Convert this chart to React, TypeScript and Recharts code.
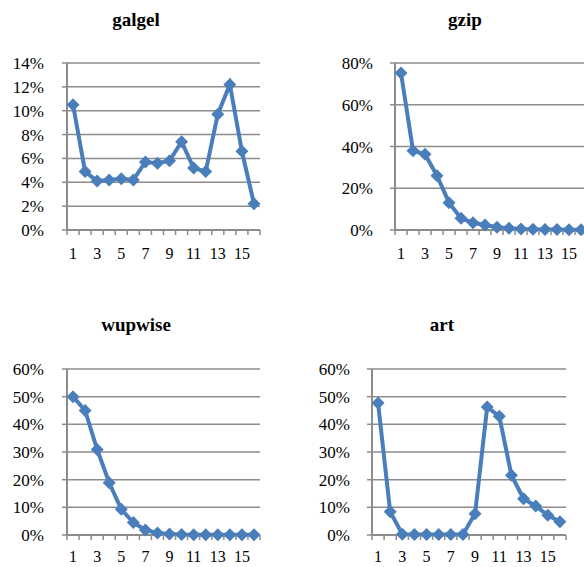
import { LineChart, Line, XAxis, YAxis, CartesianGrid } from "recharts";

// benchmark run phases 1..16, share of time per phase (%)
const categories = [1, 2, 3, 4, 5, 6, 7, 8, 9, 10, 11, 12, 13, 14, 15, 16];
const labelTicks = [1, 3, 5, 7, 9, 11, 13, 15];

const galgelValues = [10.5, 4.9, 4.1, 4.2, 4.3, 4.2, 5.7, 5.6, 5.8, 7.4, 5.2, 4.9, 9.7, 12.2, 6.6, 2.2];
const gzipValues = [75.2, 38, 36.3, 26, 13.1, 5.6, 3.5, 2.4, 1.3, 0.8, 0.5, 0.3, 0.2, 0.2, 0.1, 0.1];
const wupwiseValues = [50, 45, 30.9, 18.9, 9.3, 4.5, 1.8, 0.7, 0.4, 0.2, 0.1, 0.1, 0.1, 0.1, 0.1, 0.1];
const artValues = [47.7, 8.4, 0.3, 0.2, 0.2, 0.2, 0.2, 0.2, 7.7, 46.3, 42.9, 21.6, 13.1, 10.5, 7.1, 4.8];

const galgelTicks = [0, 2, 4, 6, 8, 10, 12, 14];
const gzipTicks = [0, 20, 40, 60, 80];
const sixtyTicks = [0, 10, 20, 30, 40, 50, 60];

const FONT = '"Liberation Serif", "DejaVu Serif", Tinos, "Times New Roman", serif';
const GRID = "#8c8c8c";
const BLUE = "#4a7ebb";

// tick marks sit between categories, like the Excel original
const boundaryTicks = [...categories.map((c) => c - 0.5), categories[categories.length - 1] + 0.5];

function Diamond(props: any) {
  const { cx, cy } = props;
  if (cx == null || cy == null) return null;
  const r = 6.5;
  return (
    <polygon
      key={`d-${cx}`}
      points={`${cx},${cy - r} ${cx + r},${cy} ${cx},${cy + r} ${cx - r},${cy}`}
      fill={BLUE}
    />
  );
}

interface PanelProps {
  title: string;
  values: number[];
  yTicks: number[];
  left: number;
  top: number;
  width: number;
  height: number;
  plotLeft: number;
  plotRight: number;
  plotTop: number;
  plotBottom: number;
  titleX: number;
  titleTop: number;
  labelGap: number;
  xLabelMargin: number;
}

const MARKS_H = 5;
const LABELS_H = 25;

function Panel(p: PanelProps) {
  const data = categories.map((c, i) => ({ x: c, v: p.values[i] }));
  const yMax = p.yTicks[p.yTicks.length - 1];
  const yTickStyle = { fill: "#000", fontSize: 17, fontFamily: FONT };
  const xTickStyle = { fill: "#000", fontSize: 16, fontFamily: FONT };

  return (
    <>
      <div
        style={{
          position: "absolute",
          left: p.titleX - 100,
          top: p.titleTop,
          width: 200,
          textAlign: "center",
          fontFamily: FONT,
          fontWeight: "bold",
          fontSize: 19,
          lineHeight: "20px",
        }}
      >
        {p.title}
      </div>
      <div style={{ position: "absolute", left: p.left, top: p.top }}>
        <LineChart
          width={p.width}
          height={p.height}
          data={data}
          margin={{
            top: p.plotTop - p.top,
            right: p.left + p.width - p.plotRight,
            bottom: p.top + p.height - p.plotBottom - MARKS_H - LABELS_H,
            left: 0,
          }}
        >
          <CartesianGrid vertical={false} stroke={GRID} strokeWidth={1.5} xAxisId="b" />
          {/* "a": tick marks between categories, "b": category labels */}
          <XAxis
            xAxisId="a"
            dataKey="x"
            type="number"
            domain={[0.5, 16.5]}
            ticks={boundaryTicks}
            interval={0}
            height={MARKS_H}
            tickFormatter={() => ""}
            tickSize={5}
            tickLine={{ stroke: GRID, strokeWidth: 1.5 }}
            axisLine={{ stroke: GRID, strokeWidth: 2 }}
          />
          <XAxis
            xAxisId="b"
            dataKey="x"
            type="number"
            domain={[0.5, 16.5]}
            ticks={labelTicks}
            interval={0}
            height={LABELS_H}
            tickSize={0}
            tickMargin={p.xLabelMargin}
            tickLine={false}
            axisLine={false}
            tick={xTickStyle}
          />
          <YAxis
            width={p.plotLeft - p.left}
            domain={[0, yMax]}
            ticks={p.yTicks}
            interval={0}
            tickSize={5}
            tickMargin={p.labelGap - 5}
            tickFormatter={(v) => `${v}%`}
            tickLine={{ stroke: GRID, strokeWidth: 1.5 }}
            axisLine={{ stroke: GRID, strokeWidth: 2 }}
            tick={yTickStyle}
          />
          <Line
            xAxisId="b"
            type="linear"
            dataKey="v"
            stroke={BLUE}
            strokeWidth={4}
            dot={Diamond}
            activeDot={false}
            isAnimationActive={false}
          />
        </LineChart>
      </div>
    </>
  );
}

export default function App() {
  return (
    <div
      style={{
        position: "absolute",
        left: 0,
        top: 0,
        width: 584,
        height: 567,
        overflow: "hidden",
        background: "#fff",
      }}
    >
      <Panel
        title="galgel"
        values={galgelValues}
        yTicks={galgelTicks}
        left={0}
        top={0}
        width={280}
        height={270}
        plotLeft={67}
        plotRight={260}
        plotTop={63}
        plotBottom={230}
        titleX={136}
        titleTop={10}
        labelGap={23}
        xLabelMargin={13}
      />
      <Panel
        title="gzip"
        values={gzipValues}
        yTicks={gzipTicks}
        left={300}
        top={0}
        width={300}
        height={270}
        plotLeft={395}
        plotRight={587}
        plotTop={63}
        plotBottom={230}
        titleX={465}
        titleTop={10}
        labelGap={22}
        xLabelMargin={13}
      />
      <Panel
        title="wupwise"
        values={wupwiseValues}
        yTicks={sixtyTicks}
        left={0}
        top={300}
        width={280}
        height={267}
        plotLeft={67}
        plotRight={260}
        plotTop={369}
        plotBottom={535}
        titleX={136}
        titleTop={315}
        labelGap={23}
        xLabelMargin={11}
      />
      <Panel
        title="art"
        values={artValues}
        yTicks={sixtyTicks}
        left={290}
        top={300}
        width={294}
        height={267}
        plotLeft={372}
        plotRight={566}
        plotTop={369}
        plotBottom={535}
        titleX={442}
        titleTop={315}
        labelGap={22}
        xLabelMargin={11}
      />
    </div>
  );
}
